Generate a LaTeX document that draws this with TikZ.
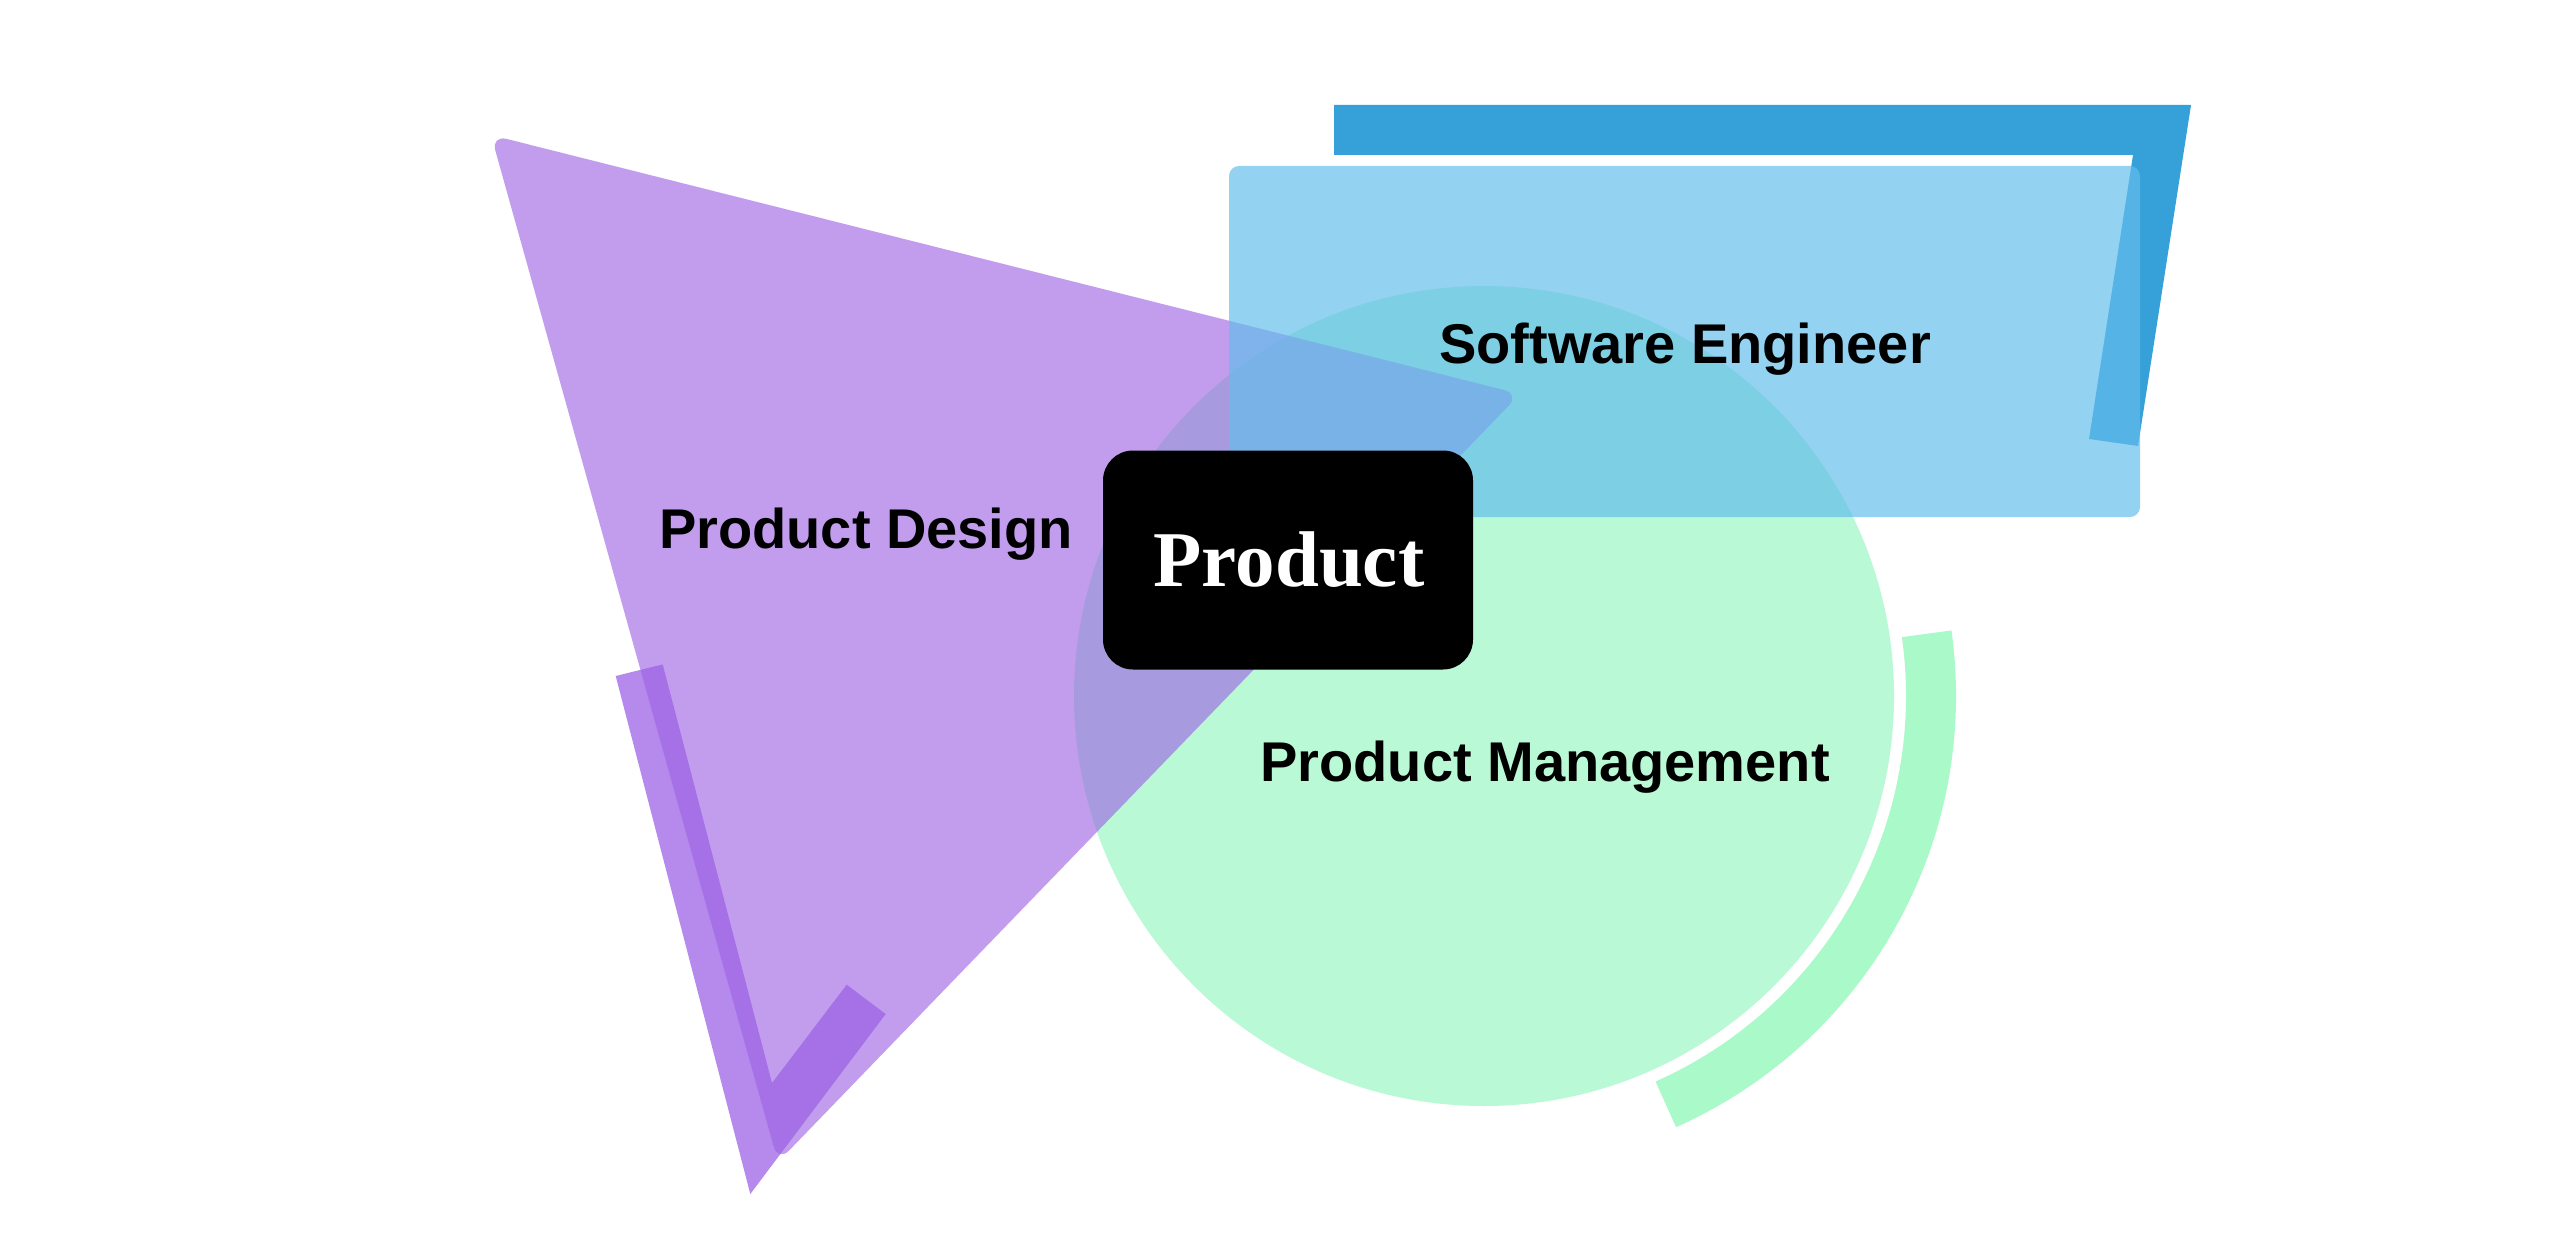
\documentclass[tikz,border=0pt]{standalone}
\usepackage{fontspec}
\setmainfont{Liberation Serif}
\setsansfont{Liberation Sans}
\definecolor{pmgreen}{RGB}{186,249,213}
\definecolor{arcgreen}{RGB}{170,249,200}
\definecolor{pdpurple}{RGB}{158,97,229}
\definecolor{lpurple}{RGB}{181,138,236}
\definecolor{seblue}{RGB}{99,190,236}
\definecolor{darkblue}{RGB}{54,160,216}
\tikzset{
  lbl/.style={font=\sffamily\bfseries\fontsize{56}{60}\selectfont, inner sep=0pt, text=black},
  prodtxt/.style={font=\rmfamily\bfseries\fontsize{79}{84}\selectfont, inner sep=0pt, text=white},
  prodbox/.style={fill=black, rounded corners=30pt, minimum width=370pt, minimum height=219pt, inner sep=0pt}
}
\begin{document}
\begin{tikzpicture}[x=1pt,y=1pt]
\useasboundingbox (0,0) rectangle (2560,-1233);
\fill[white] (0,0) rectangle (2560,-1233);
% green circle and arc
\fill[pmgreen] (1484,-696) circle[radius=410];
\draw[arcgreen, line width=50pt] ([shift={(8:447)}]1484,-696) arc[start angle=8, end angle=-66, radius=447];
% dark blue bracket
\fill[darkblue] (1334,-105) -- (2191,-105) -- (2138,-446) -- (2089,-439) -- (2133,-155) -- (1334,-155) -- cycle;
% purple L
\fill[lpurple] (615.7,-676) -- (662.7,-664.4) -- (772,-1083) -- (846.7,-984.7) -- (885.7,-1014) -- (750.3,-1194) -- cycle;
% purple triangle
\fill[pdpurple, fill opacity=0.62, rounded corners=16pt] (491,-135) -- (1520,-394) -- (778,-1162) -- cycle;
% light blue rectangle
\fill[seblue, fill opacity=0.69, rounded corners=10pt] (1229,-166) rectangle (2140,-517);
% black product box
\node[prodbox] (box) at (1288,-560) {};
\node[prodtxt, anchor=base] (prod) at (1289,-586) {Product};
% labels
\node[lbl, anchor=base] (pd) at (866,-548) {Product Design};
\node[lbl, anchor=base] (se) at (1685,-363) {Software Engineer};
\node[lbl, anchor=base] (pm) at (1545,-781) {Product Management};
\end{tikzpicture}
\end{document}
